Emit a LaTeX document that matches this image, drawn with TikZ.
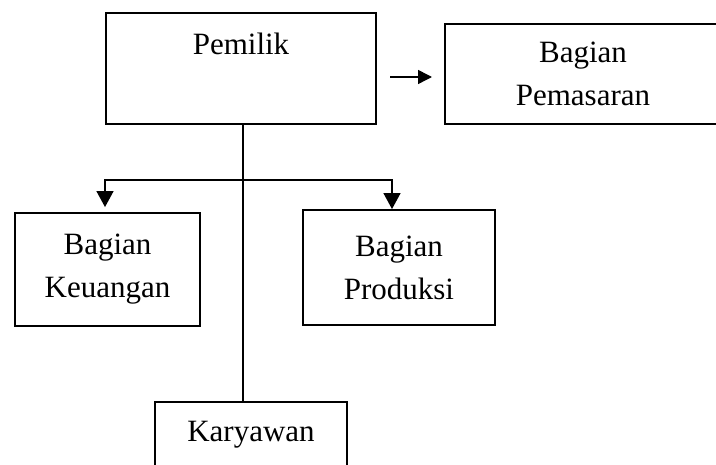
\documentclass[tikz,border=0pt]{standalone}
\usepackage{fontspec}
\setmainfont{Liberation Serif}
\usepackage{tikz}
\usetikzlibrary{arrows.meta}
\tikzset{
  unit/.style={draw, line width=1.9pt, align=center, inner sep=0pt,
    font=\fontsize{31}{43}\selectfont},
  link/.style={line width=1.5pt},
  arrow/.style={link, -{Triangle[length=16pt, width=17pt]}}
}

\begin{document}
\begin{tikzpicture}[x=1pt, y=-1pt]
\clip (0,0) rectangle (716,465);

\node[unit, minimum width=270pt, minimum height=111pt,
  text height=22pt, text depth=49pt] (pemilik) at (241, 68.5) {Pemilik};
\node[unit, minimum width=276pt, minimum height=100pt]
  (pemasaran) at (583, 74) {Bagian\\Pemasaran};
\node[unit, minimum width=185pt, minimum height=113pt]
  (keuangan) at (107.5, 269.5) {Bagian\\Keuangan};
\node[unit, minimum width=192pt, minimum height=115pt]
  (produksi) at (399, 267.5) {Bagian\\Produksi};
\node[unit, minimum width=192pt, minimum height=65pt]
  (karyawan) at (251, 434.5) {Karyawan};

\coordinate (split) at (243, 180);
\coordinate (from) at (390, 77);
\coordinate (to) at (432, 77);

\draw[link] ([xshift=2pt]pemilik.south) -- ([xshift=2pt]pemilik.south |- karyawan.north);
\draw[arrow] (split) -| ([xshift=-2.5pt, yshift=5pt]keuangan.north);
\draw[arrow] (split) -| ([xshift=-7pt]produksi.north);
\draw[link, -{Triangle[length=14pt, width=14pt]}] (from) -- (to);
\end{tikzpicture}
\end{document}
